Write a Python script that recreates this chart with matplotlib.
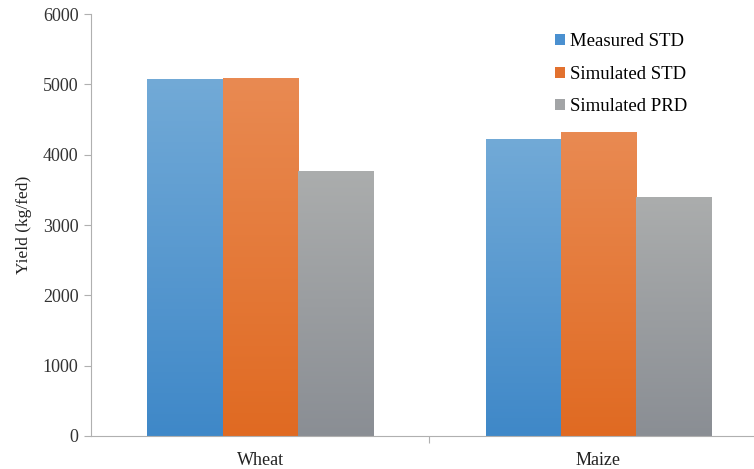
"""
Yield bar chart: measured vs simulated
"""

import matplotlib

matplotlib.use("Agg")
import matplotlib.pyplot as plt
import numpy as np
from matplotlib.colors import LinearSegmentedColormap
from matplotlib.patches import Patch

crops = ["Wheat", "Maize"]
series = ["Measured STD", "Simulated STD", "Simulated PRD"]
measured_std = [5080, 4230]
simulated_std = [5090, 4320]
simulated_prd = [3770, 3400]
y_ticks = [0, 1000, 2000, 3000, 4000, 5000, 6000]

# (top colour, bottom colour, legend colour)
colors = [
    ("#72aad7", "#3f88c8", "#4a90d0"),
    ("#e98a52", "#e06a22", "#e2712e"),
    ("#abadad", "#8a8e94", "#a2a4a6"),
]

plt.rcParams["font.family"] = ["Liberation Serif", "DejaVu Serif"]

fig = plt.figure(figsize=(7.54, 4.69), dpi=100)
ax = fig.add_axes([0.1207, 0.0704, 0.8793, 0.8997])

x = np.arange(len(crops))
width = 0.222
values = [measured_std, simulated_std, simulated_prd]

grad = np.linspace(0, 1, 256).reshape(-1, 1)
handles = []
for i, (vals, name, (top, bottom, legc)) in enumerate(zip(values, series, colors)):
    bars = ax.bar(x + (i - 1) * width, vals, width, color="none", linewidth=0)
    cmap = LinearSegmentedColormap.from_list(name, [top, bottom])
    for b in bars:
        im = ax.imshow(
            grad,
            cmap=cmap,
            aspect="auto",
            extent=(b.get_x(), b.get_x() + b.get_width(), 0, b.get_height()),
            origin="upper",
            zorder=2,
        )
        im.set_clip_path(b)
    handles.append(Patch(facecolor=legc, edgecolor="none", label=name))

ax.set_xlim(-0.5, 1.46)
ax.set_ylim(0, 6000)
ax.set_yticks(y_ticks)
ax.set_yticklabels([str(t) for t in y_ticks], fontsize=13, color="#333333")
ax.set_xticks([0.5])
ax.set_xticklabels([""])
ax.tick_params(axis="x", length=5, color="#b0b0b0", width=0.8)
ax.tick_params(axis="y", length=5, color="#b0b0b0", width=0.8, pad=4)
for c_i, c in enumerate(crops):
    ax.text(c_i, -230, c, ha="center", va="top", fontsize=13, color="#222222")

for s in ["top", "right"]:
    ax.spines[s].set_visible(False)
for s in ["left", "bottom"]:
    ax.spines[s].set_color("#b0b0b0")
    ax.spines[s].set_linewidth(0.8)

ax.set_ylabel("Yield (kg/fed)", fontsize=12.5, color="#222222", labelpad=8)

ax.legend(
    handles=handles,
    loc="upper left",
    bbox_to_anchor=(0.68, 0.985),
    frameon=False,
    fontsize=13.5,
    handlelength=0.55,
    handleheight=0.55,
    handletextpad=0.25,
    labelspacing=0.82,
    borderaxespad=0.3,
)

fig.savefig("out.png", dpi=100)
